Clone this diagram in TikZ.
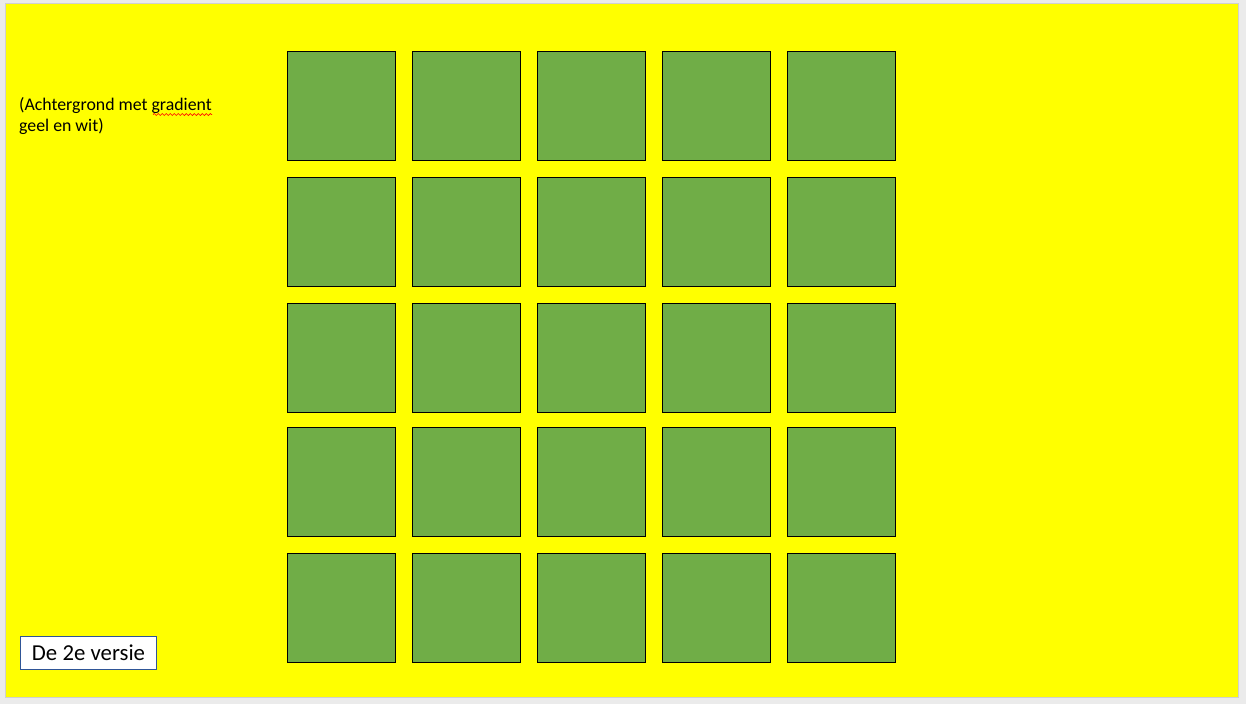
\documentclass[tikz,border=0pt]{standalone}
\usepackage{fontspec}
\setmainfont{Carlito}
\usetikzlibrary{decorations.pathmorphing}
\definecolor{pagegrey}{HTML}{EBEBEB}
\definecolor{edgegrey}{HTML}{D0D0D0}
\definecolor{slideyellow}{HTML}{FFFF00}
\definecolor{tilegreen}{HTML}{70AD47}
\definecolor{boxblue}{HTML}{2F5597}
\tikzset{
  tile/.style={draw=black, line width=1pt, fill=tilegreen, minimum width=108pt, minimum height=109pt, inner sep=0pt, anchor=north west},
  note/.style={font=\fontsize{17.8}{21}\selectfont, align=left, anchor=base west, inner sep=0pt},
  labelbox/.style={draw=boxblue, line width=1pt, fill=white, minimum width=136pt, minimum height=33pt, anchor=north west, inner sep=0pt, font=\fontsize{22.8}{26}\selectfont}
}
\begin{document}
\begin{tikzpicture}[x=1pt,y=-1pt]
\useasboundingbox (0,0) rectangle (1246,704);
\fill[pagegrey] (0,0) rectangle (1246,704);
\filldraw[fill=slideyellow, draw=edgegrey, line width=1pt] (5,3) rectangle (1238,697);
\foreach \c/\x in {1/287,2/412,3/537,4/662,5/787}{
  \foreach \r/\y in {1/51,2/177,3/303,4/427,5/553}{
    \node[tile] (t\r\c) at (\x,\y) {};
  }
}
\node[note] (note) at (19,131) {(Achtergrond met gradient\\geel en wit)};
\draw[red, line width=0.7pt, decorate, decoration={snake, amplitude=1pt, segment length=4pt}] (153,114.5) -- (212,114.5);
\node[labelbox] (versie) at (20,636) {De 2e versie};
\end{tikzpicture}
\end{document}
